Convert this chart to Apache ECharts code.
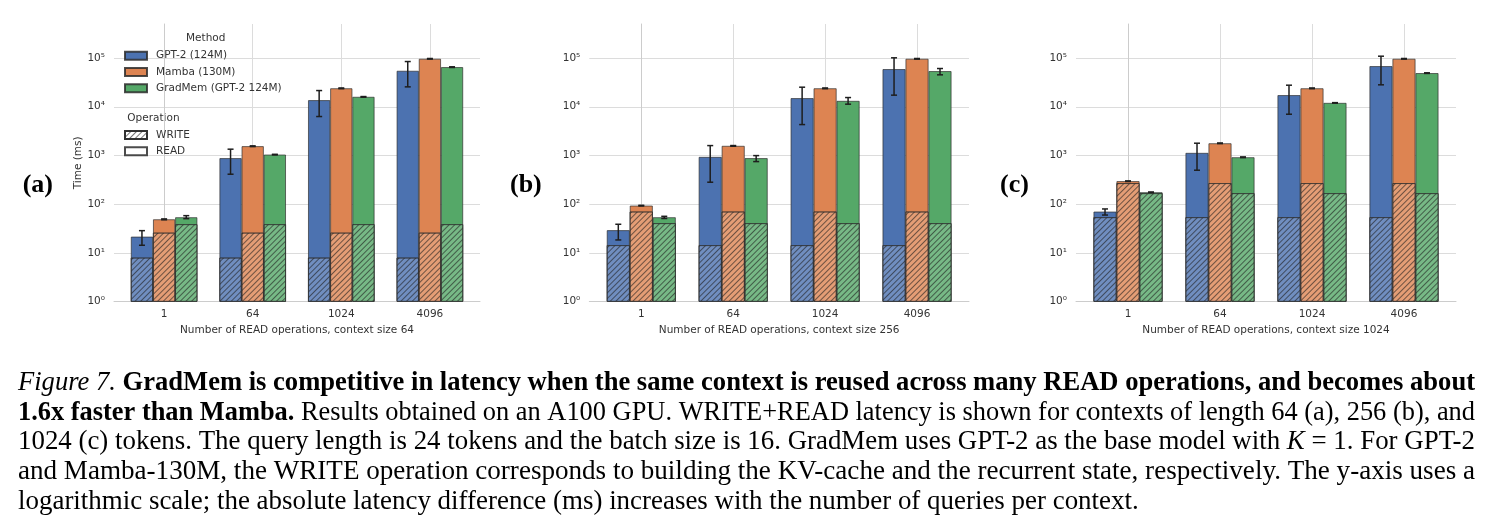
<!DOCTYPE html>
<html><head><meta charset="utf-8">
<script src="https://cdn.jsdelivr.net/npm/echarts@6/dist/echarts.min.js"></script>
<style>html,body{margin:0;padding:0;background:#fff}#c{width:1491px;height:532px}</style>
</head><body><div id="c"></div>
<script>
// ---------------- data ----------------
const categories = ['1', '64', '1024', '4096'];
const methods = ['GPT-2 (124M)', 'Mamba (130M)', 'GradMem (GPT-2 124M)'];
const operations = ['WRITE', 'READ'];
const panelLabels = ['(a)', '(b)', '(c)'];
const xTitles = ['Number of READ operations, context size 64',
                 'Number of READ operations, context size 256',
                 'Number of READ operations, context size 1024'];
const yTickLabels = ['10⁰', '10¹', '10²', '10³', '10⁴', '10⁵'];

// panel (a) context 64
const a_gpt2_write = [8, 8, 8, 8];
const a_gpt2_total = [21.6, 881, 13650, 54600];
const a_gpt2_err_lo = [14.4, 413, 6300, 25600];
const a_gpt2_err_hi = [28.7, 1347, 21500, 84700];
const a_mamba_write = [26, 26, 26, 26];
const a_mamba_total = [49, 1550, 23900, 96400];
const a_mamba_err_lo = [48, 1525, 23500, 95000];
const a_mamba_err_hi = [50, 1575, 24300, 97800];
const a_gradmem_write = [38.8, 38.8, 38.8, 38.8];
const a_gradmem_total = [54, 1043, 15960, 65000];
const a_gradmem_err_lo = [50.6, 1028, 15700, 64000];
const a_gradmem_err_hi = [58.3, 1058, 16200, 66000];

// panel (b) context 256
const b_gpt2_write = [14.4, 14.4, 14.4, 14.4];
const b_gpt2_total = [29.3, 935, 15000, 59200];
const b_gpt2_err_lo = [18.5, 283, 4310, 17300];
const b_gpt2_err_hi = [38.8, 1597, 25200, 101000];
const b_mamba_write = [70.5, 70.5, 70.5, 70.5];
const b_mamba_total = [93.6, 1575, 23900, 96400];
const b_mamba_err_lo = [92, 1550, 23500, 95000];
const b_mamba_err_hi = [95, 1600, 24300, 97800];
const b_gradmem_write = [40.7, 40.7, 40.7, 40.7];
const b_gradmem_total = [54, 881, 13200, 53800];
const b_gradmem_err_lo = [51, 750, 11300, 45200];
const b_gradmem_err_hi = [56.5, 995, 15450, 60900];

// panel (c) context 1024
const c_gpt2_write = [54, 54, 54, 54];
const c_gpt2_total = [70.5, 1130, 17300, 68100];
const c_gpt2_err_lo = [60, 499, 7030, 28200];
const c_gpt2_err_hi = [80, 1787, 27700, 109000];
const c_mamba_write = [270, 270, 270, 270];
const c_mamba_total = [297, 1780, 23900, 96400];
const c_mamba_err_lo = [293, 1755, 23500, 95000];
const c_mamba_err_hi = [301, 1805, 24300, 97800];
const c_gradmem_write = [168, 168, 168, 168];
const c_gradmem_total = [176, 920, 12000, 49000];
const c_gradmem_err_lo = [174, 905, 11850, 48300];
const c_gradmem_err_hi = [178, 935, 12150, 49700];

const panels = [
  { write: [a_gpt2_write, a_mamba_write, a_gradmem_write], total: [a_gpt2_total, a_mamba_total, a_gradmem_total],
    lo: [a_gpt2_err_lo, a_mamba_err_lo, a_gradmem_err_lo], hi: [a_gpt2_err_hi, a_mamba_err_hi, a_gradmem_err_hi] },
  { write: [b_gpt2_write, b_mamba_write, b_gradmem_write], total: [b_gpt2_total, b_mamba_total, b_gradmem_total],
    lo: [b_gpt2_err_lo, b_mamba_err_lo, b_gradmem_err_lo], hi: [b_gpt2_err_hi, b_mamba_err_hi, b_gradmem_err_hi] },
  { write: [c_gpt2_write, c_mamba_write, c_gradmem_write], total: [c_gpt2_total, c_mamba_total, c_gradmem_total],
    lo: [c_gpt2_err_lo, c_mamba_err_lo, c_gradmem_err_lo], hi: [c_gpt2_err_hi, c_mamba_err_hi, c_gradmem_err_hi] }
];

// ---------------- style / layout ----------------
const FONT = "'DejaVu Sans', sans-serif";
const SERIF = "'Liberation Serif', 'Times New Roman', serif";
const TXT = '#333333';
const GRIDC = '#dcdcdc';
const AXISC = '#cccccc';
const colors = ['#4C72B0', '#DD8452', '#55A868'];
const writeColors = ['#708EC0', '#E49D75', '#77B986'];
const BORDER = 'rgba(45,45,45,0.85)';
const hatch = { symbol: 'rect', symbolSize: 1, dashArrayX: [1, 0], dashArrayY: [1, 3],
                rotation: -Math.PI / 4, color: 'rgba(30,30,30,0.6)' };
const gridBoxes = [
  { left: 114, width: 366 },
  { left: 589.3, width: 379.7 },
  { left: 1076, width: 380 }
];
const GTOP = 24, GH = 277.7, XMIN = -0.5655, XMAX = 3.5655, YMIN = 1, YMAX = 499000;
const NP = gridBoxes.length;

const grids = [], xAxes = [], yAxes = [], series = [];
// main grids (0..2): axes, READ+WRITE totals, error bars
gridBoxes.forEach((g, p) => {
  grids.push({ left: g.left, top: GTOP, width: g.width, height: GH });
  xAxes.push({
    type: 'value', gridIndex: p, min: XMIN, max: XMAX,
    axisLine: { show: true, onZero: false, lineStyle: { color: AXISC, width: 1 } },
    axisTick: { show: false, customValues: [0, 1, 2, 3] },
    axisLabel: { customValues: [0, 1, 2, 3], formatter: v => categories[Math.round(v)],
                 fontFamily: FONT, fontSize: 10.5, color: TXT, margin: 7 },
    splitLine: { show: true, lineStyle: { color: GRIDC, width: 1 } },
    name: xTitles[p], nameLocation: 'middle', nameGap: 20,
    nameTextStyle: { fontFamily: FONT, fontSize: 10.5, color: TXT }
  });
  yAxes.push({
    type: 'log', logBase: 10, gridIndex: p, min: YMIN, max: YMAX,
    axisLine: { show: true, lineStyle: { color: AXISC, width: 1 } },
    axisTick: { show: false },
    splitLine: { show: true, showMaxLine: false, lineStyle: { color: GRIDC, width: 1 } },
    axisLabel: {
      formatter: v => { const l = Math.log10(v); const e = Math.round(l);
                        return Math.abs(l - e) < 1e-6 && e >= 0 && e < yTickLabels.length ? yTickLabels[e] : ''; },
      fontFamily: FONT, fontSize: 10.5, color: TXT, margin: 9
    },
    name: p === 0 ? 'Time (ms)' : '', nameLocation: 'middle', nameGap: 30,
    nameTextStyle: { fontFamily: FONT, fontSize: 10.5, color: TXT }
  });
  const P = panels[p];
  for (let m = 0; m < 3; m++) {
    series.push({
      type: 'bar', name: methods[m], xAxisIndex: p, yAxisIndex: p,
      barGap: '0%', barCategoryGap: '25%',
      data: P.total[m].map((v, i) => [i, v]),
      itemStyle: { color: colors[m], borderColor: BORDER, borderWidth: 0.8 },
      emphasis: { disabled: true }, silent: true
    });
  }
  const errData = [];
  for (let m = 0; m < 3; m++) for (let i = 0; i < categories.length; i++)
    errData.push([i, P.lo[m][i], P.hi[m][i], m]);
  series.push({
    type: 'custom', xAxisIndex: p, yAxisIndex: p, z: 5, silent: true,
    encode: { x: 0, y: [1, 2] },
    data: errData,
    renderItem: (params, api) => {
      const x = api.value(0) + (api.value(3) - 1) * 0.25;
      const a = api.coord([x, api.value(2)]);
      const b = api.coord([x, api.value(1)]);
      const cap = 3, st = { stroke: '#1e1e1e', lineWidth: 1.5 };
      return { type: 'group', children: [
        { type: 'line', shape: { x1: a[0], y1: a[1], x2: b[0], y2: b[1] }, style: st },
        { type: 'line', shape: { x1: a[0] - cap, y1: a[1], x2: a[0] + cap, y2: a[1] }, style: st },
        { type: 'line', shape: { x1: b[0] - cap, y1: b[1], x2: b[0] + cap, y2: b[1] }, style: st }
      ] };
    }
  });
});
// overlay grids (3..5): hatched WRITE part drawn over the same positions
gridBoxes.forEach((g, p) => {
  const gi = NP + p;
  grids.push({ left: g.left, top: GTOP, width: g.width, height: GH });
  xAxes.push({ type: 'value', gridIndex: gi, min: XMIN, max: XMAX, show: false, splitLine: { show: false } });
  yAxes.push({ type: 'log', logBase: 10, gridIndex: gi, min: YMIN, max: YMAX, show: false, splitLine: { show: false } });
  const P = panels[p];
  for (let m = 0; m < 3; m++) {
    series.push({
      type: 'bar', name: methods[m] + ' WRITE', xAxisIndex: gi, yAxisIndex: gi,
      barGap: '0%', barCategoryGap: '25%',
      data: P.write[m].map((v, i) => [i, v]),
      itemStyle: { color: writeColors[m], borderColor: BORDER, borderWidth: 0.7, decal: hatch },
      emphasis: { disabled: true }, silent: true
    });
  }
});

// hidden grid for the Operation legend entries
const LG = 2 * NP;
grids.push({ left: -100, top: -100, width: 10, height: 10 });
xAxes.push({ type: 'category', gridIndex: LG, show: false, data: ['x'] });
yAxes.push({ type: 'value', gridIndex: LG, show: false });
series.push({ type: 'bar', name: 'WRITE', xAxisIndex: LG, yAxisIndex: LG, data: [],
  itemStyle: { color: '#ffffff', borderColor: BORDER, borderWidth: 0.8, decal: hatch } });
series.push({ type: 'bar', name: 'READ', xAxisIndex: LG, yAxisIndex: LG, data: [],
  itemStyle: { color: '#ffffff', borderColor: BORDER, borderWidth: 0.8 } });

const legendCommon = {
  orient: 'vertical', left: 124, itemWidth: 22, itemHeight: 8, itemGap: 4.3, icon: 'rect',
  selectedMode: false, padding: 0,
  textStyle: { fontFamily: FONT, fontSize: 10.5, color: TXT, lineHeight: 12, padding: [0, 0, 0, 4] }
};

// ---------------- caption ----------------
const captionLines = [
  [['Figure 7.', 'i'], [' ', 'n'], ['GradMem is competitive in latency when the same context is reused across many READ operations, and becomes about', 'b']],
  [['1.6x faster than Mamba.', 'b'], [' Results obtained on an A100 GPU. WRITE+READ latency is shown for contexts of length 64 (a), 256 (b), and', 'n']],
  [['1024 (c) tokens. The query length is 24 tokens and the batch size is 16. GradMem uses GPT-2 as the base model with ', 'n'], ['K', 'i'], [' = 1. For GPT-2', 'n']],
  [['and Mamba-130M, the WRITE operation corresponds to building the KV-cache and the recurrent state, respectively. The y-axis uses a', 'n']],
  [['logarithmic scale; the absolute latency difference (ms) increases with the number of queries per context.', 'n']]
];
const CAP_LEFT = 18, CAP_RIGHT = 1475, CAP_LAST_RIGHT = 1139, CAP_Y0 = 383, CAP_DY = 29.7;
const mctx = document.createElement('canvas').getContext('2d');
const fontFor = (k, size) => (k === 'i' ? 'italic ' : '') + (k === 'b' ? 'bold ' : '') + size + 'px ' + SERIF;
const measureLine = (line, size) => line.reduce((s, seg) => { mctx.font = fontFor(seg[1], size); return s + mctx.measureText(seg[0]).width; }, 0);
const capSize = 20 * (CAP_LAST_RIGHT - CAP_LEFT) / measureLine(captionLines[4], 20);
const rich = {
  n: { fontFamily: SERIF, fontSize: capSize, fill: '#000' },
  i: { fontFamily: SERIF, fontSize: capSize, fontStyle: 'italic', fill: '#000' },
  b: { fontFamily: SERIF, fontSize: capSize, fontWeight: 'bold', fill: '#000' }
};
const graphics = [];
captionLines.forEach((line, k) => {
  const w = measureLine(line, capSize);
  const sx = k < 4 ? (CAP_RIGHT - CAP_LEFT) / w : 1;
  graphics.push({
    type: 'text', x: CAP_LEFT, y: CAP_Y0 + k * CAP_DY, scaleX: sx, silent: true,
    style: { text: line.map(s => '{' + s[1] + '|' + s[0] + '}').join(''), rich: rich,
             fontFamily: SERIF, fontSize: capSize, fill: '#000', align: 'left', verticalAlign: 'middle' }
  });
});
// panel letters
[[22.7, 185], [510, 185], [1000, 185]].forEach((pt, p) => graphics.push({
  type: 'text', x: pt[0], y: pt[1], silent: true,
  style: { text: panelLabels[p], fontFamily: SERIF, fontWeight: 'bold', fontSize: 26, fill: '#000',
           align: 'left', verticalAlign: 'middle' }
}));
// legend headings
graphics.push({ type: 'text', x: 205.7, y: 38.3, silent: true,
  style: { text: 'Method', fontFamily: FONT, fontSize: 10.5, fill: TXT, align: 'center', verticalAlign: 'middle' } });
graphics.push({ type: 'text', x: 127.3, y: 118.3, silent: true,
  style: { text: 'Operation', fontFamily: FONT, fontSize: 10.5, fill: TXT, align: 'left', verticalAlign: 'middle' } });

const chart = echarts.init(document.getElementById('c'), null, { renderer: 'canvas' });
chart.setOption({
  backgroundColor: '#ffffff',
  animation: false,
  grid: grids, xAxis: xAxes, yAxis: yAxes, series: series,
  legend: [
    Object.assign({}, legendCommon, { top: 49.7, data: methods }),
    Object.assign({}, legendCommon, { top: 129, data: operations })
  ],
  graphic: graphics
});
</script></body></html>
